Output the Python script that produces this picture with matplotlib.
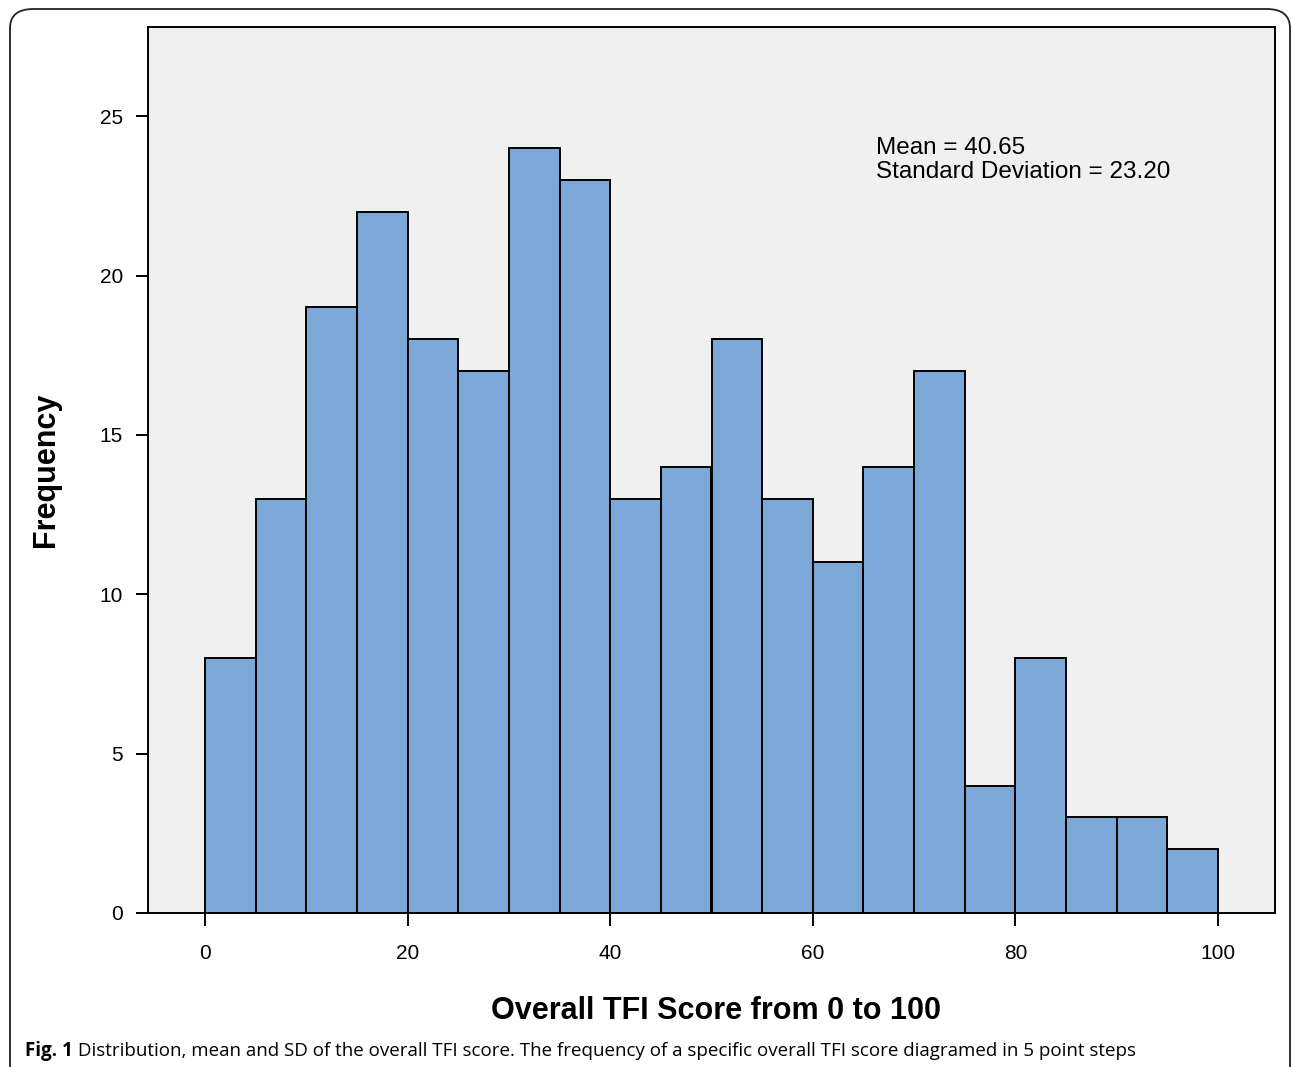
import numpy as np
import matplotlib
matplotlib.use('Agg')
import matplotlib.pyplot as plt
from matplotlib.patches import FancyBboxPatch

# TFI score bins (5 point steps) and counts
bin_width = 5
bin_starts = list(range(0, 100, bin_width))
counts = [8, 13, 19, 22, 18, 17, 24, 23, 13, 14, 18, 13, 11, 14, 17, 4, 8, 3, 3, 2]
x_ticks = [0, 20, 40, 60, 80, 100]
y_ticks = [0, 5, 10, 15, 20, 25]
mean_text = 'Mean = 40.65\nStandard Deviation = 23.20'
caption_bold = 'Fig. 1'
caption_rest = (' Distribution, mean and SD of the overall TFI score. The frequency '
                'of a specific overall TFI score diagramed in 5 point steps')

plt.rcParams['font.family'] = ['Liberation Sans', 'DejaVu Sans']

fig = plt.figure(figsize=(12.92, 10.67), dpi=100)
ax = fig.add_axes([148 / 1292, 1 - 913 / 1067, (1275 - 148) / 1292, (913 - 27) / 1067])

ax.set_facecolor('#f0f0f0')
ax.bar(bin_starts, counts, width=bin_width, align='edge',
       color='#7ba8d6', edgecolor='black', linewidth=1.4, zorder=2)

ax.set_xlim(-5.63, 105.63)
ax.set_ylim(0, 27.8)
ax.set_xticks(x_ticks)
ax.set_yticks(y_ticks)
ax.tick_params(axis='both', direction='out', length=9, width=1.4,
               labelsize=15, color='black')
ax.tick_params(axis='x', pad=13)
ax.tick_params(axis='y', pad=9)
for s in ax.spines.values():
    s.set_linewidth(1.4)
    s.set_color('black')

ax.set_xlabel('Overall TFI Score from 0 to 100', fontsize=22, fontweight='bold', labelpad=24)
ax.xaxis.label.set_x(0.504)
ax.set_ylabel('Frequency', fontsize=22, fontweight='bold', labelpad=28)

ax.text(66.2, 24.35, mean_text, fontsize=17.5, va='top', ha='left', linespacing=1.12)

# caption
t = fig.text(25 / 1292, 1 - 1051 / 1067, caption_bold, fontsize=13.5,
             fontweight='bold', family=['Open Sans', 'DejaVu Sans'], va='center', ha='left')
fig.canvas.draw()
bb = t.get_window_extent()
fig.text(bb.x1 / 1292, 1 - 1051 / 1067, caption_rest, fontsize=13.5,
         family=['Open Sans', 'DejaVu Sans'], va='center', ha='left')

# rounded outer frame (bottom runs off the page)
frame = FancyBboxPatch((10 / 1292, -0.05), (1290 - 10) / 1292, (1067 - 9) / 1067 + 0.05,
                       boxstyle='round,pad=0,rounding_size=0.018',
                       transform=fig.transFigure, fill=False,
                       edgecolor='#222222', linewidth=1.3)
fig.patches.append(frame)

fig.savefig('out.png', dpi=100)
